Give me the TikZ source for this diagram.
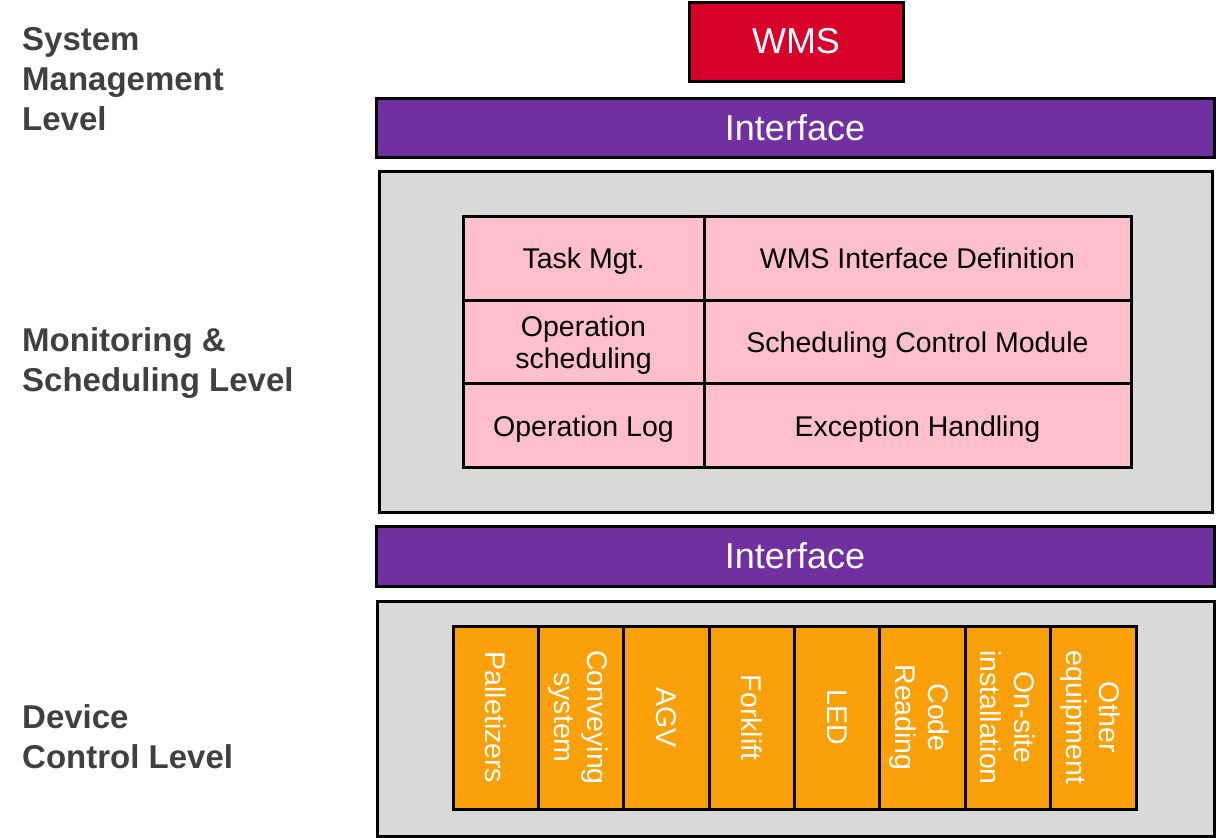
\documentclass[tikz,border=0pt]{standalone}
\usepackage{fontspec}
\setmainfont{Liberation Sans}
\usepackage{xcolor}
\usetikzlibrary{positioning}

\definecolor{wmsred}{HTML}{D6002A}
\definecolor{ifacepurple}{HTML}{7030A0}
\definecolor{panelgray}{HTML}{D9D9D9}
\definecolor{cellpink}{HTML}{FFC0CB}
\definecolor{devorange}{HTML}{F9A00B}
\definecolor{labelgray}{HTML}{404040}

\tikzset{
  block/.style={draw=black, line width=3pt, inner sep=0pt, outer sep=0pt, text=white,
    font=\fontsize{36}{43}\selectfont},
  panel/.style={draw=black, line width=3pt, fill=panelgray, inner sep=0pt, outer sep=0pt},
  cell/.style={draw=black, line width=3pt, fill=cellpink, anchor=north west, align=center,
    inner sep=0pt, outer sep=0pt, minimum height=83.7pt, text depth=0pt,
    font=\fontsize{28.5}{31.6}\selectfont},
  devcell/.style={draw=black, line width=3pt, fill=devorange, text=white, rotate=-90,
    align=center, inner sep=0pt, outer sep=0pt, minimum width=183pt, minimum height=85.375pt,
    text depth=0pt, font=\fontsize{28.5}{33.4}\selectfont},
  levellabel/.style={anchor=north west, align=left, inner sep=0pt, text=labelgray,
    font=\bfseries\fontsize{33}{40}\selectfont},
}

\begin{document}
\begin{tikzpicture}[x=1pt,y=-1pt]
    \useasboundingbox (0,0) rectangle (1216,838);

    % Level labels
    \node[levellabel] (lblSys) at (22,27) {System\\Management\\Level};
    \node[levellabel] (lblMon) at (22,327) {Monitoring \&\\Scheduling Level};
    \node[levellabel] (lblDev) at (22,704) {Device\\Control Level};

    % WMS and interfaces
    \node[block, fill=wmsred, minimum width=214pt, minimum height=79pt] (wms) at (796,41.5) {WMS};
    \node[block, fill=ifacepurple, minimum width=838pt, minimum height=59pt] (ifaceTop) at (795,127.5) {Interface};
    \node[block, fill=ifacepurple, minimum width=838pt, minimum height=60pt] (ifaceBot) at (795,556) {Interface};

    % Panels
    \node[panel, minimum width=833pt, minimum height=341pt] (monPanel) at (795.5,341.5) {};
    \node[panel, minimum width=837pt, minimum height=235pt] (devPanel) at (795.5,718.5) {};

    % Monitoring & scheduling modules
    \foreach \r/\y/\a/\b in {1/216.5/{Task Mgt.}/{WMS Interface Definition},
                             2/300.2/{Operation\\scheduling}/{Scheduling Control Module},
                             3/383.9/{Operation Log}/{Exception Handling}} {
        \node[cell, minimum width=241pt] (modL\r) at (463,\y) {\a};
        \node[cell, minimum width=427pt] (modR\r) at (704,\y) {\b};
    }

    % Devices
    \foreach \dev [count=\i from 0] in {Palletizers, {Conveying\\system}, AGV, Forklift, LED,
                                       {Code\\Reading}, {On-site\\installation}, {Other\\equipment}} {
        \node[devcell] (dev\i) at ({453+85.375*(\i+0.5)},717.5) {\dev};
    }
\end{tikzpicture}
\end{document}
